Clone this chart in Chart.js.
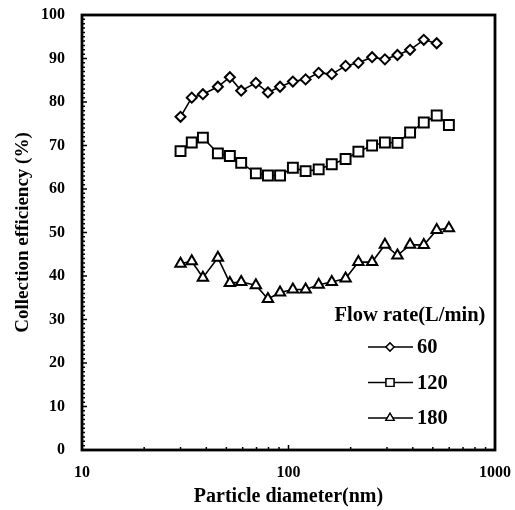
<!DOCTYPE html>
<html>
<head>
<meta charset="utf-8">
<script src="https://cdn.jsdelivr.net/npm/chart.js@4"></script>
<style>
  body { margin: 0; background: #fff; }
  #wrap { width: 515px; height: 510px; }
</style>
</head>
<body>
<div id="wrap"><canvas id="eff"></canvas></div>
<script>
const diameters = [30, 34, 38.5, 45.5, 52, 59, 69.5, 79.5, 91, 105, 121, 140, 162, 189, 218, 254, 293, 337, 388, 452, 522, 598]
const flow60 = [76.6, 81.0, 81.8, 83.5, 85.7, 82.6, 84.4, 82.2, 83.5, 84.7, 85.2, 86.7, 86.4, 88.3, 89.0, 90.3, 89.8, 90.8, 92.0, 94.3, 93.5]
const flow120 = [68.7, 70.7, 71.8, 68.2, 67.6, 66.0, 63.6, 63.1, 63.1, 64.9, 64.1, 64.5, 65.7, 66.9, 68.6, 70.0, 70.7, 70.6, 73.0, 75.3, 76.9, 74.7]
const flow180 = [42.8, 43.4, 39.6, 44.2, 38.4, 38.6, 37.9, 34.7, 36.2, 36.9, 36.9, 38.0, 38.6, 39.4, 43.2, 43.2, 47.2, 44.7, 47.2, 47.1, 50.6, 51.0]
const seriesNames = ["60", "120", "180"]
const xTickValues = [10, 100, 1000]

const serif = "'Liberation Serif', 'Times New Roman', serif"

function pairs(vals) {
    return vals.map((v, i) => ({ x: diameters[i], y: v }))
}

function makeSet(label, vals, style, r) {
    return {
        label: label,
        data: pairs(vals),
        borderColor: "#000",
        borderWidth: 1.6,
        backgroundColor: "#fff",
        pointStyle: style,
        pointRadius: r,
        pointHoverRadius: r,
        pointBorderWidth: 2,
        pointBorderColor: "#000",
        pointBackgroundColor: "#fff",
        tension: 0,
        fill: false
    }
}

function noPad(scale) {
    scale.paddingLeft = 0
    scale.paddingRight = 0
    scale.paddingTop = 0
    scale.paddingBottom = 0
}

// frame, inside ticks and the legend box
const framePlugin = {
    id: "frame",
    afterDraw(chart) {
        const ctx = chart.ctx
        const a = chart.chartArea
        const xs = chart.scales.x, ys = chart.scales.y
        ctx.save()
        ctx.strokeStyle = "#000"
        ctx.lineWidth = 1.5
        ctx.beginPath()
        for (let d = 1; d <= 2; d++) {
            for (let k = 2; k <= 9; k++) {
                const px = xs.getPixelForValue(k * Math.pow(10, d))
                if (px < a.right - 2) { ctx.moveTo(px, a.bottom); ctx.lineTo(px, a.bottom - 3) }
            }
        }
        xTickValues.forEach(v => {
            const px = xs.getPixelForValue(v)
            ctx.moveTo(px, a.bottom); ctx.lineTo(px, a.bottom - 5)
        })
        for (let v = 0; v <= 100; v++) {
            const py = ys.getPixelForValue(v)
            const len = v % 10 === 0 ? 5 : 3
            ctx.moveTo(a.left, py); ctx.lineTo(a.left + len, py)
        }
        ctx.stroke()
        ctx.lineWidth = 2.8
        ctx.strokeRect(a.left, a.top, a.right - a.left, a.bottom - a.top)

        // legend
        ctx.fillStyle = "#000"
        ctx.font = "bold 20.5px " + serif
        ctx.textAlign = "center"
        ctx.textBaseline = "middle"
        ctx.fillText("Flow rate(L/min)", 410, 316)
        ctx.font = "bold 20.5px " + serif
        ctx.textAlign = "left"
        chart.data.datasets.forEach((ds, i) => {
            const y = 347 + i * 35.5
            ctx.lineWidth = 1.3
            ctx.beginPath()
            ctx.moveTo(368, y); ctx.lineTo(413, y)
            ctx.stroke()
            Chart.helpers.drawPoint(ctx, {
                pointStyle: ds.pointStyle,
                radius: ds.pointRadius * 0.8,
                borderWidth: 1.3,
                rotation: 0
            }, 390, y)
            ctx.fillStyle = "#fff"
            ctx.fill()
            ctx.stroke()
            ctx.fillStyle = "#000"
            ctx.fillText(ds.label, 417, y + 1)
        })
        ctx.restore()
    }
}

new Chart("eff", {
    type: "line",
    data: {
        datasets: [
            makeSet(seriesNames[0], flow60, "rectRot", 5),
            makeSet(seriesNames[1], flow120, "rect", 7),
            makeSet(seriesNames[2], flow180, "triangle", 6)
        ]
    },
    options: {
        responsive: true,
        maintainAspectRatio: false,
        animation: false,
        layout: { padding: { top: 15, right: 20, left: 0, bottom: 0 } },
        plugins: {
            legend: { display: false },
            tooltip: { enabled: false }
        },
        scales: {
            x: {
                type: "logarithmic",
                min: 10,
                max: 1000,
                afterBuildTicks: scale => { scale.ticks = xTickValues.map(v => ({ value: v })) },
                afterFit: scale => { scale.height = 60; noPad(scale) },
                grid: { display: false, drawTicks: false },
                border: { display: false },
                ticks: {
                    color: "#000",
                    padding: 13,
                    maxRotation: 0,
                    autoSkip: false,
                    font: { family: serif, size: 16, weight: "bold" },
                    callback: v => String(v)
                },
                title: {
                    display: true,
                    text: "Particle diameter(nm)",
                    color: "#000",
                    padding: { top: 0, bottom: 1 },
                    font: { family: serif, size: 20, weight: "bold" }
                }
            },
            y: {
                min: 0,
                max: 100,
                afterFit: scale => { scale.width = 82; noPad(scale) },
                grid: { display: false, drawTicks: false },
                border: { display: false },
                ticks: {
                    stepSize: 10,
                    color: "#000",
                    padding: 17,
                    font: { family: serif, size: 16, weight: "bold" }
                },
                title: {
                    display: true,
                    text: "Collection efficiency (%)",
                    color: "#000",
                    padding: { top: 12, bottom: 0 },
                    font: { family: serif, size: 19, weight: "bold" }
                }
            }
        }
    },
    plugins: [framePlugin]
})
</script>
</body>
</html>
